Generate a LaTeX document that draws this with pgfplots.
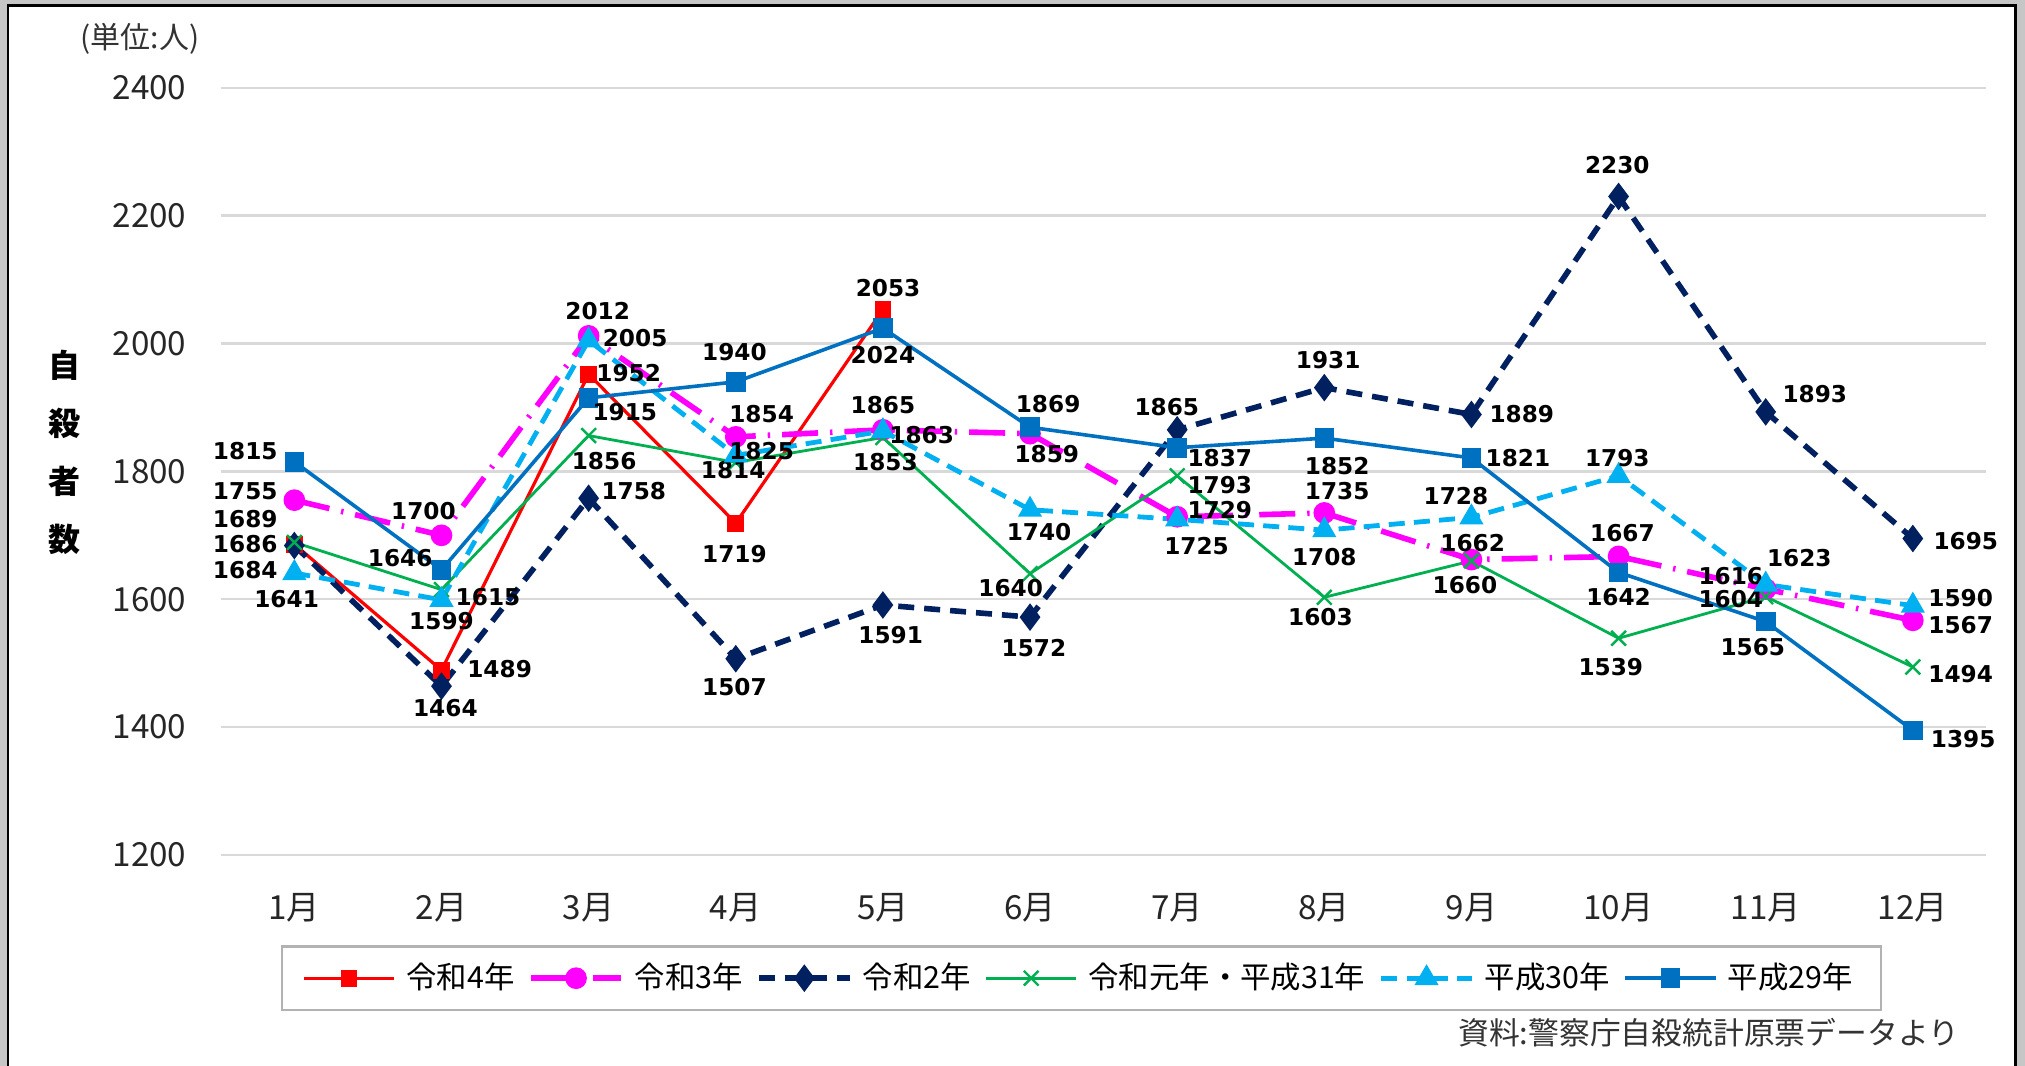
\documentclass[border=0pt]{standalone}
\usepackage{pgfplots}
\pgfplotsset{compat=1.18}
\usepackage{pgfplotstable}
\usepackage{fontspec}
\newfontfamily\jp{Noto Sans CJK JP}
\newfontfamily\num{DejaVu Sans}

\definecolor{cRfour}{HTML}{FF0000}
\definecolor{cRthree}{HTML}{FF00FF}
\definecolor{cRtwo}{HTML}{002060}
\definecolor{cRone}{HTML}{00B050}
\definecolor{cHthirty}{HTML}{00B0F0}
\definecolor{cHtwentynine}{HTML}{0070C0}

% data labels placed by offset dx/dy (in reference px, scaled below)
\pgfplotsset{lbl/.style={
    point meta=explicit symbolic,
    nodes near coords,
    visualization depends on={\thisrow{dx}\as\dx},
    visualization depends on={\thisrow{dy}\as\dy},
    every node near coord/.append style={font=\num\bfseries\fontsize{5.8}{7}\selectfont,
        text=black, anchor=center, inner sep=0pt,
        xshift=0.3229*(\dx), yshift=0.3229*(\dy)},
}}

% x = month, y = value, dx/dy = label offset
\pgfplotstableread{
x y dx dy
1 1686 -38 0.4
2 1489 45 1
3 1952 31 0.8
4 1719 -1 -24
5 2053 4 16.8
}\tRfour
\pgfplotstableread{
x y dx dy
1 1755 -38 7.3
2 1700 -14 18.5
3 2012 7 19
4 1854 20 18
5 1865 0 18.8
6 1859 13 -16
7 1729 33 5
8 1735 10 17
9 1662 1 13
10 1667 3 17.8
11 1616 -27 10
12 1567 37 -3.7
}\tRthree
\pgfplotstableread{
x y dx dy
1 1684 -38 -18.6
2 1464 3 -16.7
3 1758 35 5.8
4 1507 -1 -22
5 1591 6 -23.5
6 1572 3 -24
7 1865 -8 17.8
8 1931 3 21
9 1889 39 0
10 2230 -1 24
11 1893 38 14
12 1695 41 -2
}\tRtwo
\pgfplotstableread{
x y dx dy
1 1689 -38 18
2 1615 36 -5.4
3 1856 12 -20
4 1814 -2 -6
5 1853 2 -19
6 1640 -15 -11
7 1793 33 -7.5
8 1603 -3 -15.5
9 1660 -5 -19
10 1539 -6 -22
11 1604 -27 -2
12 1494 37 -5.5
}\tRone
\pgfplotstableread{
x y dx dy
1 1641 -6 -20.3
2 1599 0 -16.5
3 2005 36 1.5
4 1825 20 3.6
5 1863 30 -3
6 1740 7 -17
7 1725 15 -21
8 1708 0 -20.5
9 1728 -12 16.6
10 1793 -1 13.5
11 1623 26 20.6
12 1590 37 6
}\tHthirty
\pgfplotstableread{
x y dx dy
1 1815 -38 8.6
2 1646 -32 9
3 1915 28 -11
4 1940 -1 22.7
5 2024 0 -21
6 1869 14 17.8
7 1837 33 -8
8 1852 10 -22
9 1821 36 0
10 1642 0 -19
11 1565 -10 -19.7
12 1395 39 -6.5
}\tHtwentynine

\begin{document}
\begin{tikzpicture}
\useasboundingbox (-55.2pt,-52.75pt) rectangle (451.05pt,213.75pt);
% frame
\fill[gray!45] (-55.2pt,-52.75pt) rectangle (451.05pt,213.75pt);
\fill[white] (-53.2pt,-52.75pt) rectangle (448.65pt,212.35pt);
\draw[black, line width=0.6pt] (-53.2pt,-52.75pt) -- (-53.2pt,212.35pt) -- (448.65pt,212.35pt) -- (448.65pt,-52.75pt);

\begin{axis}[
    scale only axis,
    width=441.4pt, height=191.8pt,
    xmin=0.5, xmax=12.5, ymin=1200, ymax=2400,
    xtick={1,...,12},
    xticklabels={1月,2月,3月,4月,5月,6月,7月,8月,9月,10月,11月,12月},
    ytick={1200,1400,...,2400},
    ymajorgrids,
    grid style={draw=gray!30, line width=0.6pt},
    axis line style={draw=none},
    tick style={draw=none},
    major tick length=0pt,
    /pgf/number format/assume math mode=true,
    /pgf/number format/1000 sep={},
    xticklabel style={font=\jp\fontsize{8.3}{10}\selectfont, text=black!85, anchor=center, yshift=-13.25pt},
    yticklabel style={font=\jp\fontsize{8.3}{10}\selectfont, text=black!85, anchor=east, inner sep=0pt, xshift=-8.4pt},
    clip=false,
    legend style={at={(0.4875,-0.1606)}, anchor=center, legend columns=6,
        draw=gray!60, line width=0.6pt, inner ysep=2pt, inner xsep=5.1pt,
        font=\jp\fontsize{7.6}{9}\selectfont,
        /tikz/every odd column/.append style={column sep=0.65pt},
        /tikz/every even column/.append style={column sep=1.4pt}},
    legend image code/.code={\draw[mark repeat=2,mark phase=2] plot coordinates {(0pt,0pt)(11.3pt,0pt)(22.6pt,0pt)};},
]
\addplot[color=cRfour, line width=0.8pt, mark=square*, mark size=1.7pt, mark options={solid}, lbl]
    table[x=x,y=y,meta=y] {\tRfour};
\addlegendentry{令和4年}
\addplot[color=cRthree, line width=1.4pt, dash pattern=on 9pt off 3pt on 0.6pt off 3pt, mark=*, mark size=2pt, mark options={solid}, lbl]
    table[x=x,y=y,meta=y] {\tRthree};
\addlegendentry{令和3年}
\addplot[color=cRtwo, line width=1.4pt, dash pattern=on 4pt off 2.5pt, mark=diamond*, mark size=2.3pt, mark options={solid}, lbl]
    table[x=x,y=y,meta=y] {\tRtwo};
\addlegendentry{令和2年}
\addplot[color=cRone, line width=0.7pt, mark=x, mark size=2.6pt, mark options={solid, line width=0.6pt}, lbl]
    table[x=x,y=y,meta=y] {\tRone};
\addlegendentry{令和元年・平成31年}
\addplot[color=cHthirty, line width=1.2pt, dash pattern=on 4pt off 2.3pt, mark=triangle*, mark size=2.3pt, mark options={solid}, lbl]
    table[x=x,y=y,meta=y] {\tHthirty};
\addlegendentry{平成30年}
\addplot[color=cHtwentynine, line width=0.9pt, mark=square*, mark size=2pt, mark options={solid}, lbl]
    table[x=x,y=y,meta=y] {\tHtwentynine};
\addlegendentry{平成29年}
\end{axis}

\node[font=\jp\fontsize{7.5}{9}\selectfont, text=black!80] at (-20.2pt,204.1pt) {(単位:人)};
\node[font=\jp\bfseries\fontsize{8}{14.5}\selectfont, align=center] at (-39.05pt,100.6pt) {自\\殺\\者\\数};
\node[anchor=east, font=\jp\fontsize{7.7}{9}\selectfont, text=black!80] at (438.1pt,-44.5pt) {資料:警察庁自殺統計原票データより};
\end{tikzpicture}
\end{document}
